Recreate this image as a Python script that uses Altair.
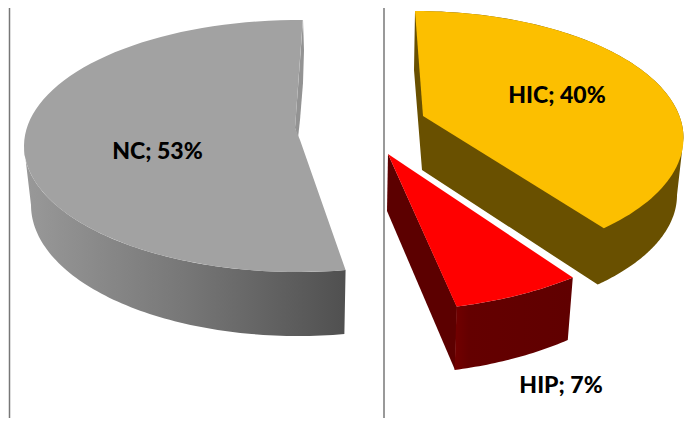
import math
import altair as alt
import pandas as pd

names = ["NC", "HIC", "HIP"]
shares = [53, 40, 7]
# slice ends as they appear after the picture's perspective, clockwise from the back
start_deg = [170, 0, 141]
end_deg = [361, 135.3, 166]
top_fill = ["#a2a2a2", "#fcbf00", "#ff0000"]
label_xy = [(157.5, 151.5), (557, 95.5), (561, 386)]

# projected pie geometry: cx, cy, rx, ry
ell_top = [(298, 146, 274, 126), (415, 138, 268.5, 127), (384, 161, 300, 150)]
ell_bot = [(298, 205, 267, 131), (415, 195, 262, 125), (384, 219.6, 292, 155)]
apex_nc = [(295, 128), (300, 140)]
apex_hic = [(423, 116)]
apex_hip = [(388, 154)]
sliver_nc = [(303, 20), (304, 50), (303, 83), (300, 120), (298, 138), (295, 128)]
edge_hic = [(415, 11), (414, 70), (422, 170)]
edge_hip = [(388, 154), (387, 211), (455, 370), (457, 307)]

def arc(e, a0, a1, n=80):
    cx, cy, rx, ry = e
    out = []
    for k in range(n + 1):
        t = math.radians(a0 + (a1 - a0) * k / n)
        out.append((cx + rx * math.sin(t), cy - ry * math.cos(t)))
    return out

XS = alt.Scale(domain=[8, 684], nice=False, zero=False)
YS = alt.Scale(domain=[418, 8], nice=False, zero=False)

def shape(pts, fill):
    df = pd.DataFrame({"x": [p[0] for p in pts], "y": [p[1] for p in pts], "i": list(range(len(pts)))})
    return alt.Chart(df).mark_line(fill=fill, strokeWidth=0, interpolate="linear", clip=False).encode(
        x=alt.X("x:Q", scale=XS, axis=None),
        y=alt.Y("y:Q", scale=YS, axis=None),
        order="i:Q",
    )

def hgrad(stops):
    return alt.LinearGradient(
        gradient="linear", x1=0, y1=0, x2=1, y2=0,
        stops=[alt.GradientStop(offset=o, color=c) for o, c in stops],
    )

layers = []

# NC
a0, a1 = start_deg[0], end_deg[0]
layers.append(shape(
    arc(ell_top[0], a0, 270) + arc(ell_bot[0], 270, a0),
    hgrad([(0, "#999999"), (0.5, "#777777"), (1, "#505050")]),
))
layers.append(shape(sliver_nc, "#939393"))
layers.append(shape(arc(ell_top[0], a0, a1) + apex_nc, top_fill[0]))

# HIC
a0, a1 = start_deg[1], end_deg[1]
layers.append(shape(
    edge_hic + arc(ell_bot[1], a1 + 0.5, 90) + arc(ell_top[1], 90, a0),
    "#695000",
))
layers.append(shape(arc(ell_top[1], a0, a1) + apex_hic, top_fill[1]))

# HIP
a0, a1 = start_deg[2], end_deg[2]
layers.append(shape(edge_hip, "#5c0000"))
layers.append(shape(
    arc(ell_top[2], a0, a1, 30) + arc(ell_bot[2], a1, a0, 30),
    hgrad([(0, "#720000"), (0.12, "#640000"), (1, "#600000")]),
))
layers.append(shape(arc(ell_top[2], a0, a1, 30) + apex_hip, top_fill[2]))

# frame lines
frame_x = [9.5, 384]
frame = pd.DataFrame({"x": frame_x})
layers.append(alt.Chart(frame).mark_rule(color="#777777", strokeWidth=1.5).encode(
    x=alt.X("x:Q", scale=XS, axis=None)))

# labels
labels = pd.DataFrame({
    "x": [p[0] for p in label_xy],
    "y": [p[1] for p in label_xy],
    "t": [f"{n}; {s}%" for n, s in zip(names, shares)],
})
layers.append(alt.Chart(labels).mark_text(
    font="Lato", fontSize=23, fontWeight=900, color="#000000", align="center", baseline="middle"
).encode(
    x=alt.X("x:Q", scale=XS, axis=None),
    y=alt.Y("y:Q", scale=YS, axis=None),
    text="t:N",
))

chart = alt.layer(*layers).properties(
    width=676, height=410, padding=0,
    autosize=alt.AutoSizeParams(type="none"),
    background="#ffffff",
).configure_view(stroke=None)

chart.save("out.html", embed_options={"renderer": "svg", "actions": False})
